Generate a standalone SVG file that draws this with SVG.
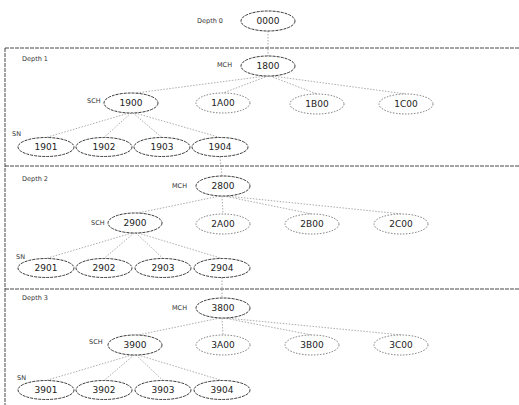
<svg xmlns="http://www.w3.org/2000/svg" width="519" height="405" viewBox="0 0 519 405">
<style>
.bg{fill:#fff}
.sep{stroke:#333;stroke-width:0.9;stroke-dasharray:4 1;fill:none}
.e{stroke:#888;stroke-width:0.7;stroke-dasharray:1.5 1.5;fill:none}
.n ellipse{fill:#fff;stroke:#222;stroke-width:0.9;stroke-dasharray:3 1}
.d ellipse{fill:#fff;stroke:#555;stroke-width:0.8;stroke-dasharray:1.5 1.5}
.n text,.d text{font-family:"DejaVu Sans",sans-serif;font-size:9px;fill:#222;text-anchor:middle}
.l{font-family:"DejaVu Sans",sans-serif;font-size:6.5px;fill:#333}
</style>
<rect class="bg" width="519" height="405"/>
<g id="frame">
<path class="sep" d="M5 48H519M5 166H519M5 289H519M5 48V405"/>
</g>
<g id="labels">
<text class="l" x="197" y="23">Depth 0</text>
<text class="l" x="22" y="61">Depth 1</text>
<text class="l" x="217" y="67">MCH</text>
<text class="l" x="87" y="103">SCH</text>
<text class="l" x="12" y="136">SN</text>
<text class="l" x="22" y="181">Depth 2</text>
<text class="l" x="172" y="188">MCH</text>
<text class="l" x="91" y="225">SCH</text>
<text class="l" x="16" y="259">SN</text>
<text class="l" x="22" y="300">Depth 3</text>
<text class="l" x="172" y="310">MCH</text>
<text class="l" x="89" y="344">SCH</text>
<text class="l" x="17" y="380">SN</text>
</g>
<g id="connectors">
<path class="e" d="M268 31V56"/>
<path class="e" d="M266 76L136 93M268 76L223 93M270 76L317 94M272 76L406 94"/>
<path class="e" d="M129 113L46 137.5M131 113L104 137.5M133 113L162 137.5M135 113L220 137.5"/>
<path class="e" d="M220 156.5L222 176"/>
<path class="e" d="M220 196L138 213M222 196L223 214M224 196L312 214M226 196L402 214"/>
<path class="e" d="M132 233L46 258.5M134 233L104 258.5M136 233L163 258.5M138 233L222 258.5"/>
<path class="e" d="M222 277.5V298"/>
<path class="e" d="M220 318L138 335M222 318L223 335M224 318L312 335M226 318L402 335"/>
<path class="e" d="M132 355L46 380.5M134 355L104 380.5M136 355L163 380.5M138 355L222 380.5"/>
</g>
<g id="n0000" class="n"><ellipse cx="268" cy="21" rx="27" ry="10"/><text x="268" y="24">0000</text></g>
<g id="n1800" class="n"><ellipse cx="268" cy="66" rx="27" ry="10"/><text x="268" y="69">1800</text></g>
<g id="n1900" class="n"><ellipse cx="131" cy="103" rx="27" ry="10"/><text x="131" y="106">1900</text></g>
<g id="n1A00" class="d"><ellipse cx="223" cy="103" rx="27" ry="10"/><text x="223" y="106">1A00</text></g>
<g id="n1B00" class="d"><ellipse cx="317" cy="104" rx="27" ry="10"/><text x="317" y="107">1B00</text></g>
<g id="n1C00" class="d"><ellipse cx="406" cy="104" rx="27" ry="10"/><text x="406" y="107">1C00</text></g>
<g id="n1901" class="n"><ellipse cx="46" cy="147" rx="28" ry="9.5"/><text x="46" y="150">1901</text></g>
<g id="n1902" class="n"><ellipse cx="104" cy="147" rx="28" ry="9.5"/><text x="104" y="150">1902</text></g>
<g id="n1903" class="n"><ellipse cx="162" cy="147" rx="28" ry="9.5"/><text x="162" y="150">1903</text></g>
<g id="n1904" class="n"><ellipse cx="220" cy="147" rx="28" ry="9.5"/><text x="220" y="150">1904</text></g>
<g id="n2800" class="n"><ellipse cx="223" cy="186" rx="27" ry="10"/><text x="223" y="189">2800</text></g>
<g id="n2900" class="n"><ellipse cx="135" cy="223" rx="27" ry="10"/><text x="135" y="226">2900</text></g>
<g id="n2A00" class="d"><ellipse cx="223" cy="224" rx="27" ry="10"/><text x="223" y="227">2A00</text></g>
<g id="n2B00" class="d"><ellipse cx="312" cy="224" rx="27" ry="10"/><text x="312" y="227">2B00</text></g>
<g id="n2C00" class="d"><ellipse cx="401" cy="224" rx="27" ry="10"/><text x="401" y="227">2C00</text></g>
<g id="n2901" class="n"><ellipse cx="46" cy="268" rx="28" ry="9.5"/><text x="46" y="271">2901</text></g>
<g id="n2902" class="n"><ellipse cx="104" cy="268" rx="28" ry="9.5"/><text x="104" y="271">2902</text></g>
<g id="n2903" class="n"><ellipse cx="163" cy="268" rx="28" ry="9.5"/><text x="163" y="271">2903</text></g>
<g id="n2904" class="n"><ellipse cx="222" cy="268" rx="28" ry="9.5"/><text x="222" y="271">2904</text></g>
<g id="n3800" class="n"><ellipse cx="223" cy="308" rx="27" ry="10"/><text x="223" y="311">3800</text></g>
<g id="n3900" class="n"><ellipse cx="135" cy="345" rx="27" ry="10"/><text x="135" y="348">3900</text></g>
<g id="n3A00" class="d"><ellipse cx="223" cy="345" rx="27" ry="10"/><text x="223" y="348">3A00</text></g>
<g id="n3B00" class="d"><ellipse cx="312" cy="345" rx="27" ry="10"/><text x="312" y="348">3B00</text></g>
<g id="n3C00" class="d"><ellipse cx="401" cy="345" rx="27" ry="10"/><text x="401" y="348">3C00</text></g>
<g id="n3901" class="n"><ellipse cx="46" cy="390" rx="28" ry="9.5"/><text x="46" y="393">3901</text></g>
<g id="n3902" class="n"><ellipse cx="104" cy="390" rx="28" ry="9.5"/><text x="104" y="393">3902</text></g>
<g id="n3903" class="n"><ellipse cx="163" cy="390" rx="28" ry="9.5"/><text x="163" y="393">3903</text></g>
<g id="n3904" class="n"><ellipse cx="222" cy="390" rx="28" ry="9.5"/><text x="222" y="393">3904</text></g>
</svg>
